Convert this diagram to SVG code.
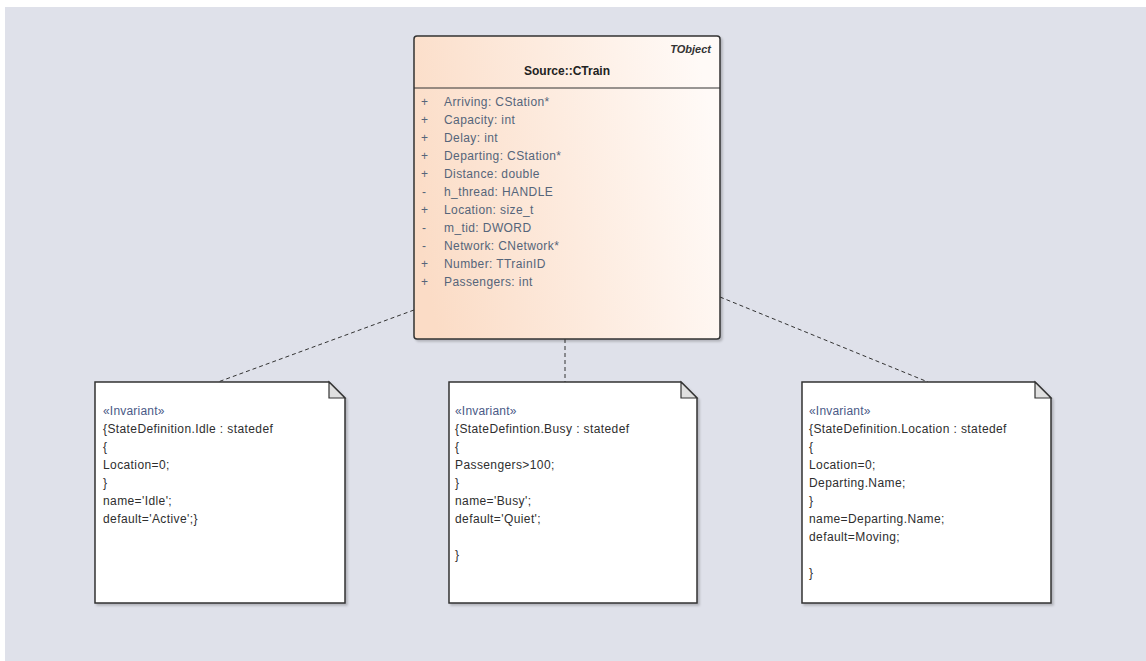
<svg xmlns="http://www.w3.org/2000/svg" width="1146" height="661" viewBox="0 0 1146 661">
<defs>
<linearGradient id="cls" x1="0" y1="0.6" x2="1" y2="0.4">
<stop offset="0" stop-color="#fbdcc6"/>
<stop offset="1" stop-color="#fffaf7"/>
</linearGradient>
<filter id="sh" x="-5%" y="-5%" width="110%" height="110%">
<feDropShadow dx="2" dy="2" stdDeviation="1" flood-color="#000" flood-opacity="0.2"/>
</filter>
</defs>
<style>
text{font-family:"Liberation Sans",Arial,sans-serif;}
.attr{font-size:12px;letter-spacing:0.4px;fill:#55657a;}
.note{font-size:12px;letter-spacing:0.4px;fill:#2e2e2e;}
.ster{font-size:12px;letter-spacing:0.2px;fill:#4a5a86;}
.notebox{fill:#fff;stroke:#333;stroke-width:1.5;}
.fold{fill:#e0e0e0;stroke:#333;stroke-width:1.2;}
.conn{stroke:#333;stroke-width:1;stroke-dasharray:4,3;fill:none;}
</style>
<rect x="0" y="0" width="1146" height="661" fill="#ffffff"/>
<rect x="5" y="7" width="1141" height="654" fill="#dfe1ea"/>
<g id="connectors">
<line class="conn" x1="414" y1="310" x2="218" y2="382"/>
<line class="conn" x1="565" y1="339" x2="565" y2="382"/>
<line class="conn" x1="720" y1="297" x2="928" y2="382"/>
</g>
<g id="ctrain">
<rect x="414" y="36" width="306" height="303" rx="3" fill="url(#cls)" stroke="#333" stroke-width="1.5" filter="url(#sh)"/>
<line x1="414" y1="88" x2="720" y2="88" stroke="#333" stroke-width="1"/>
<text x="711" y="53" font-size="11" font-style="italic" font-weight="bold" text-anchor="end" fill="#333">TObject</text>
<text x="567" y="75" font-size="12" font-weight="bold" text-anchor="middle" fill="#222">Source::CTrain</text>
<g class="attr">
<text x="421" y="106">+</text><text x="444" y="106">Arriving: CStation*</text>
<text x="421" y="124">+</text><text x="444" y="124">Capacity: int</text>
<text x="421" y="142">+</text><text x="444" y="142">Delay: int</text>
<text x="421" y="160">+</text><text x="444" y="160">Departing: CStation*</text>
<text x="421" y="178">+</text><text x="444" y="178">Distance: double</text>
<text x="422" y="196">-</text><text x="444" y="196">h_thread: HANDLE</text>
<text x="421" y="214">+</text><text x="444" y="214">Location: size_t</text>
<text x="422" y="232">-</text><text x="444" y="232">m_tid: DWORD</text>
<text x="422" y="250">-</text><text x="444" y="250">Network: CNetwork*</text>
<text x="421" y="268">+</text><text x="444" y="268">Number: TTrainID</text>
<text x="421" y="286">+</text><text x="444" y="286">Passengers: int</text>
</g>
</g>
<g id="note-idle">
<path class="notebox" d="M95,382 H329 L345,398 V603 H95 Z" filter="url(#sh)"/>
<path class="fold" d="M329,382 V398 H345 Z"/>
<text class="ster" x="103" y="415">«Invariant»</text>
<g class="note">
<text x="103" y="433">{StateDefinition.Idle : statedef</text>
<text x="103" y="451">{</text>
<text x="103" y="469">Location=0;</text>
<text x="103" y="487">}</text>
<text x="103" y="505">name='Idle';</text>
<text x="103" y="523">default='Active';}</text>
</g>
</g>
<g id="note-busy">
<path class="notebox" d="M449,382 H681 L697,398 V603 H449 Z" filter="url(#sh)"/>
<path class="fold" d="M681,382 V398 H697 Z"/>
<text class="ster" x="455" y="415">«Invariant»</text>
<g class="note">
<text x="455" y="433">{StateDefintion.Busy : statedef</text>
<text x="455" y="451">{</text>
<text x="455" y="469">Passengers&gt;100;</text>
<text x="455" y="487">}</text>
<text x="455" y="505">name='Busy';</text>
<text x="455" y="523">default='Quiet';</text>
<text x="455" y="559">}</text>
</g>
</g>
<g id="note-location">
<path class="notebox" d="M802,382 H1035 L1051,398 V603 H802 Z" filter="url(#sh)"/>
<path class="fold" d="M1035,382 V398 H1051 Z"/>
<text class="ster" x="809" y="415">«Invariant»</text>
<g class="note">
<text x="809" y="433">{StateDefinition.Location : statedef</text>
<text x="809" y="451">{</text>
<text x="809" y="469">Location=0;</text>
<text x="809" y="487">Departing.Name;</text>
<text x="809" y="505">}</text>
<text x="809" y="523">name=Departing.Name;</text>
<text x="809" y="541">default=Moving;</text>
<text x="809" y="577">}</text>
</g>
</g>
</svg>
